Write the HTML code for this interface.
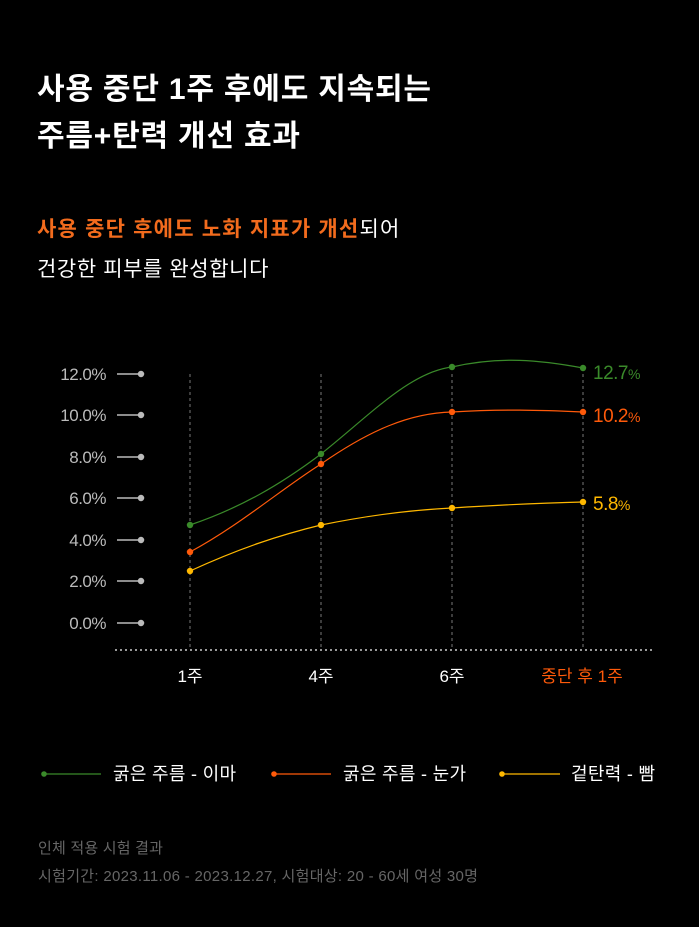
<!DOCTYPE html>
<html><head><meta charset="utf-8"><style>
html,body{margin:0;padding:0;background:#000;}
svg{display:block;}
text{font-family:"Liberation Sans","Noto Sans CJK KR",sans-serif;}
</style></head><body>
<svg width="699" height="927" viewBox="0 0 699 927" xmlns="http://www.w3.org/2000/svg">
<rect width="699" height="927" fill="#000"/>
<text x="37" y="99" font-size="30" font-weight="bold" fill="#fff" letter-spacing="0.8">사용 중단 1주 후에도 지속되는</text>
<text x="37" y="146" font-size="30" font-weight="bold" fill="#fff" letter-spacing="0.8">주름+탄력 개선 효과</text>
<text x="37" y="236" font-size="21" font-weight="bold" fill="#f26b1d" letter-spacing="1.2">사용 중단 후에도 노화 지표가 개선<tspan fill="#fff" font-weight="normal">되어</tspan></text>
<text x="37" y="276" font-size="21" fill="#fff" letter-spacing="0.6">건강한 피부를 완성합니다</text>

<g font-size="17" fill="#bbb" text-anchor="end" letter-spacing="-0.5">
<text x="106" y="380">12.0%</text>
<text x="106" y="421">10.0%</text>
<text x="106" y="463">8.0%</text>
<text x="106" y="504">6.0%</text>
<text x="106" y="546">4.0%</text>
<text x="106" y="587">2.0%</text>
<text x="106" y="629">0.0%</text>
</g>
<g stroke="#bbb" stroke-width="1.5" fill="#bbb">
<line x1="117" y1="374" x2="141" y2="374"/><circle cx="141" cy="374" r="2.5"/>
<line x1="117" y1="415" x2="141" y2="415"/><circle cx="141" cy="415" r="2.5"/>
<line x1="117" y1="457" x2="141" y2="457"/><circle cx="141" cy="457" r="2.5"/>
<line x1="117" y1="498" x2="141" y2="498"/><circle cx="141" cy="498" r="2.5"/>
<line x1="117" y1="540" x2="141" y2="540"/><circle cx="141" cy="540" r="2.5"/>
<line x1="117" y1="581" x2="141" y2="581"/><circle cx="141" cy="581" r="2.5"/>
<line x1="117" y1="623" x2="141" y2="623"/><circle cx="141" cy="623" r="2.5"/>
</g>
<g stroke="#777" stroke-width="1" stroke-dasharray="3,3">
<line x1="190" y1="374" x2="190" y2="648"/>
<line x1="321" y1="374" x2="321" y2="648"/>
<line x1="452" y1="374" x2="452" y2="648"/>
<line x1="583" y1="374" x2="583" y2="648"/>
</g>
<line x1="115" y1="650" x2="655" y2="650" stroke="#ccc" stroke-width="1.5" stroke-dasharray="2,3"/>

<path d="M190,525 C240,508 280,485 321,454 C370,415 410,372 452,367 C500,356 540,360 583,368" fill="none" stroke="#3a8a2a" stroke-width="1.2"/>
<path d="M190,552 C240,525 280,490 321,464 C370,430 410,413 452,412 C500,409 540,410 583,412" fill="none" stroke="#ff5a0a" stroke-width="1.2"/>
<path d="M190,571 C240,548 280,535 321,525 C370,515 410,510 452,508 C500,505 540,503 583,502" fill="none" stroke="#ffb800" stroke-width="1.2"/>
<g fill="#3a8a2a"><circle cx="190" cy="525" r="3.2"/><circle cx="321" cy="454" r="3.2"/><circle cx="452" cy="367" r="3.2"/><circle cx="583" cy="368" r="3.2"/></g>
<g fill="#ff5a0a"><circle cx="190" cy="552" r="3.2"/><circle cx="321" cy="464" r="3.2"/><circle cx="452" cy="412" r="3.2"/><circle cx="583" cy="412" r="3.2"/></g>
<g fill="#ffb800"><circle cx="190" cy="571" r="3.2"/><circle cx="321" cy="525" r="3.2"/><circle cx="452" cy="508" r="3.2"/><circle cx="583" cy="502" r="3.2"/></g>
<text x="593" y="379" font-size="19" fill="#3a8a2a" letter-spacing="-0.5">12.7<tspan font-size="14">%</tspan></text>
<text x="593" y="422" font-size="19" fill="#ff5a0a" letter-spacing="-0.5">10.2<tspan font-size="14">%</tspan></text>
<text x="593" y="510" font-size="19" fill="#ffb800" letter-spacing="-0.5">5.8<tspan font-size="14">%</tspan></text>

<g font-size="17" fill="#fff" text-anchor="middle">
<text x="190" y="682">1주</text>
<text x="321" y="682">4주</text>
<text x="452" y="682">6주</text>
<text x="582" y="682" fill="#ff5a0a">중단 후 1주</text>
</g>

<line x1="44" y1="774" x2="101" y2="774" stroke="#3a8a2a" stroke-width="1.2"/><circle cx="44" cy="774" r="2.8" fill="#3a8a2a"/>
<text x="113" y="780" font-size="18" fill="#fff" letter-spacing="0.3">굵은 주름 - 이마</text>
<line x1="274" y1="774" x2="331" y2="774" stroke="#ff5a0a" stroke-width="1.2"/><circle cx="274" cy="774" r="2.8" fill="#ff5a0a"/>
<text x="343" y="780" font-size="18" fill="#fff" letter-spacing="0.3">굵은 주름 - 눈가</text>
<line x1="502" y1="774" x2="560" y2="774" stroke="#ffb800" stroke-width="1.2"/><circle cx="502" cy="774" r="2.8" fill="#ffb800"/>
<text x="571" y="780" font-size="18" fill="#fff" letter-spacing="0.3">겉탄력 - 빰</text>

<text x="38" y="853" font-size="15" fill="#666" letter-spacing="0.2">인체 적용 시험 결과</text>
<text x="38" y="881" font-size="15" fill="#666" letter-spacing="0.3">시험기간: 2023.11.06 - 2023.12.27, 시험대상: 20 - 60세 여성 30명</text>
</svg>
</body></html>
